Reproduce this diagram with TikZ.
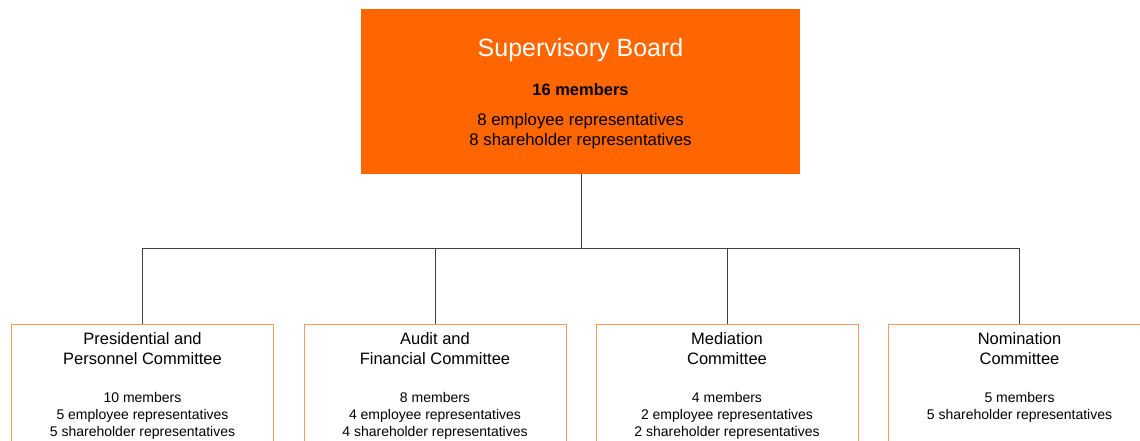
\documentclass[tikz,border=0pt]{standalone}
\usepackage{fontspec}
\setmainfont{Liberation Sans}
\definecolor{sborange}{HTML}{FF6600}
\definecolor{cborder}{HTML}{F79A5C}
\definecolor{connc}{HTML}{404040}
\newcommand\mkcomm[7]{%
  \node[commbox] (#1) at (#2,323.5) {};
  \node[ctitle] (#1t1) at (#1.north |- 0,344.3) {#3};
  \node[ctitle] (#1t2) at (#1.north |- 0,364.3) {#4};
  \node[cbody] (#1b1) at (#1.north |- 0,402.7) {#5};
  \node[cbody] (#1b2) at (#1.north |- 0,419.3) {#6};
  \node[cbody] (#1b3) at (#1.north |- 0,436) {#7};
}
\begin{document}
\begin{tikzpicture}[x=1pt,y=-1pt,
  board/.style={fill=sborange,draw=none,minimum width=439pt,minimum height=165pt,inner sep=0pt},
  commbox/.style={draw=cborder,line width=1pt,minimum width=262pt,minimum height=140pt,anchor=north west,inner sep=0pt},
  ctitle/.style={anchor=base,inner sep=0pt,font=\fontsize{16.5}{20}\selectfont},
  cbody/.style={anchor=base,inner sep=0pt,font=\fontsize{14}{17}\selectfont},
  conn/.style={draw=connc,line width=1pt}]
\useasboundingbox (0,0) rectangle (1140,441);
\clip (0,0) rectangle (1140,441);
\node[board] (sb) at (580.5,91.5) {};
\node[anchor=base,inner sep=0pt,text=white,font=\fontsize{25}{30}\selectfont] (sbt) at (580.5,57) {Supervisory Board};
\node[anchor=base,inner sep=0pt,font=\fontsize{16.5}{20}\selectfont\bfseries] (sbm) at (580.5,96) {16 members};
\node[anchor=base,inner sep=0pt,font=\fontsize{16.8}{20}\selectfont] (sbe) at (580.5,126) {8 employee representatives};
\node[anchor=base,inner sep=0pt,font=\fontsize{16.8}{20}\selectfont] (sbs) at (580.5,146) {8 shareholder representatives};
\mkcomm{c1}{11}{Presidential and}{Personnel Committee}{10 members}{5 employee representatives}{5 shareholder representatives}
\mkcomm{c2}{303.5}{Audit and}{Financial Committee}{8 members}{4 employee representatives}{4 shareholder representatives}
\mkcomm{c3}{595.5}{Mediation}{Committee}{4 members}{2 employee representatives}{2 shareholder representatives}
\mkcomm{c4}{888}{Nomination}{Committee}{5 members}{5 shareholder representatives}{}
\coordinate (bus) at (581,248);
\draw[conn] (sb.south -| bus) -- (bus);
\draw[conn] (c1.north) -- (c1.north |- bus) -- (bus);
\draw[conn] (c2.north) -- (c2.north |- bus) -- (bus);
\draw[conn] (c3.north) -- (c3.north |- bus) -- (bus);
\draw[conn] (c4.north) -- (c4.north |- bus) -- (bus);
\end{tikzpicture}
\end{document}
